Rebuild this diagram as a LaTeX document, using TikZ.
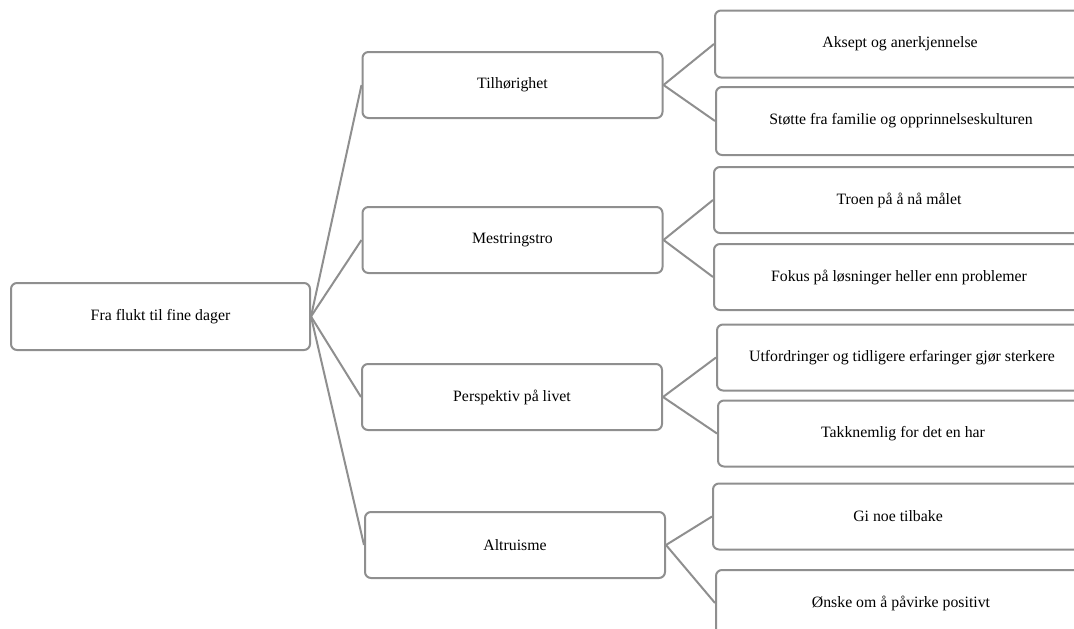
\documentclass[tikz,border=0pt]{standalone}
\usepackage{fontspec}
\setmainfont{Liberation Serif}
\definecolor{boxgray}{HTML}{8F8F8F}
\tikzset{
  box/.style={draw=boxgray, line width=2pt, rounded corners=6pt, fill=white,
    minimum width=#1, minimum height=66pt, inner sep=0pt, align=center,
    font=\fontsize{15.8}{18}\selectfont},
  conn/.style={draw=boxgray, line width=2pt}
}
\begin{document}
\begin{tikzpicture}[x=1pt,y=-1pt]
\useasboundingbox (0,0) rectangle (1074,629);
\clip (0,0) rectangle (1074,629);
% root
\node[box=299pt, minimum height=67pt] (root) at (160.5,316.5) {Fra flukt til fine dager};
% level 1
\node[box=300pt] (t) at (512.5,85) {Tilhørighet};
\node[box=300pt] (m) at (512.5,240) {Mestringstro};
\node[box=300pt] (p) at (512,397) {Perspektiv på livet};
\node[box=300pt] (a) at (515,545) {Altruisme};
% level 2
\node[box=370pt, minimum height=67pt] (t1) at (900,44) {Aksept og anerkjennelse};
\node[box=370pt, minimum height=68pt] (t2) at (901,121) {Støtte fra familie og opprinnelseskulturen};
\node[box=370pt] (m1) at (899,200) {Troen på å nå målet};
\node[box=370pt] (m2) at (899,277) {Fokus på løsninger heller enn problemer};
\node[box=370pt, minimum height=66pt] (p1) at (902,357.5) {Utfordringer og tidligere erfaringer gjør sterkere};
\node[box=370pt] (p2) at (903,433.5) {Takknemlig for det en har};
\node[box=370pt] (a1) at (898,516.5) {Gi noe tilbake};
\node[box=370pt] (a2) at (901,603) {Ønske om å påvirke positivt};
% connectors
\draw[conn] (root.east) -- (t.west);
\draw[conn] (root.east) -- (m.west);
\draw[conn] (root.east) -- (p.west);
\draw[conn] (root.east) -- (a.west);
\draw[conn] (t.east) -- (t1.west);
\draw[conn] (t.east) -- (t2.west);
\draw[conn] (m.east) -- (m1.west);
\draw[conn] (m.east) -- (m2.west);
\draw[conn] (p.east) -- (p1.west);
\draw[conn] (p.east) -- (p2.west);
\draw[conn] (a.east) -- (a1.west);
\draw[conn] (a.east) -- (a2.west);
\end{tikzpicture}
\end{document}
